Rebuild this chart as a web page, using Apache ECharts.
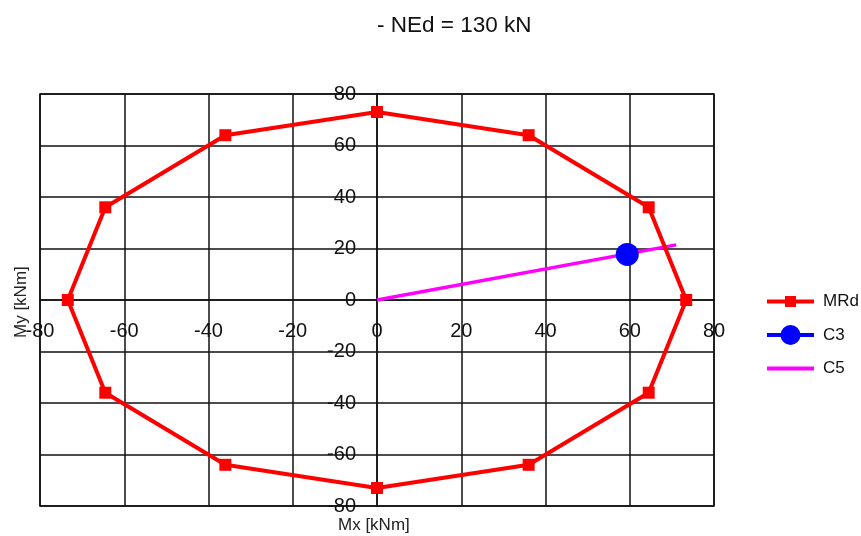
<!DOCTYPE html>
<html>
<head>
<meta charset="utf-8">
<script src="https://cdn.jsdelivr.net/npm/echarts@6/dist/echarts.min.js"></script>
<style>
  html, body { margin: 0; padding: 0; background: #fff; }
  #chart { width: 861px; height: 536px; }
</style>
</head>
<body>
<div id="chart"></div>
<script>
// Interaction diagram: resisting moment envelope and load points
const titleText = '- NEd = 130 kN';
const axisTicks = [-80, -60, -40, -20, 0, 20, 40, 60, 80];

// MRd envelope (closed polygon)
const mrdX = [0, 36, 64.5, 73.4, 64.5, 36, 0, -36, -64.5, -73.4, -64.5, -36, 0];
const mrdY = [73, 64, 36, 0, -36, -64, -73, -64, -36, 0, 36, 64, 73];

// C3 load point
const c3X = [59.4];
const c3Y = [17.7];

// C5 load path
const c5X = [0, 71];
const c5Y = [0, 21.4];

const seriesNames = ['MRd', 'C3', 'C5'];

const pairs = (xs, ys) => xs.map((x, i) => [x, ys[i]]);

const FONT = "'Liberation Sans', Arial, sans-serif";
const axisMin = axisTicks[0];
const axisMax = axisTicks[axisTicks.length - 1];
const axisStep = axisTicks[1] - axisTicks[0];

// plot rectangle (px)
const G = { left: 40, top: 94, width: 674, height: 412 };

const gridLine = { color: '#111', width: 1.5 };

// legend glyphs: line with marker, drawn in a 47 x 20 box
const ICON_MRD = 'path://M0,8 L47,8 L47,12 L0,12 Z M18,4.5 L29,4.5 L29,15.5 L18,15.5 Z';
const ICON_C3 = 'path://M0,8 L47,8 L47,12 L0,12 Z M13.5,10 A10,10 0 1,1 33.5,10 A10,10 0 1,1 13.5,10 Z';
const ICON_C5 = 'path://M0,8 L47,8 L47,12 L0,12 Z';

const chart = echarts.init(document.getElementById('chart'), null, { renderer: 'canvas' });

chart.setOption({
  backgroundColor: '#fff',
  animation: false,
  textStyle: { fontFamily: FONT },
  title: {
    text: titleText,
    left: 372,
    top: 9,
    textStyle: { fontFamily: FONT, fontSize: 22.5, fontWeight: 'normal', color: '#111' }
  },
  grid: {
    left: G.left,
    top: G.top,
    width: G.width,
    height: G.height,
    outerBoundsMode: 'none',
    containLabel: false,
    show: true,
    borderColor: '#111',
    borderWidth: 1.5,
    backgroundColor: '#fff'
  },
  xAxis: {
    type: 'value',
    position: 'bottom',
    // axis crosses at My = 0 (middle of the plot)
    offset: -G.height / 2,
    min: axisMin,
    max: axisMax,
    interval: axisStep,
    axisLine: { show: true, onZero: false, lineStyle: gridLine },
    axisTick: { show: false },
    splitLine: { show: true, lineStyle: gridLine },
    axisLabel: { fontSize: 20, color: '#111', margin: 21, fontFamily: FONT }
  },
  yAxis: {
    type: 'value',
    position: 'left',
    // axis crosses at Mx = 0 (middle of the plot)
    offset: -G.width / 2,
    min: axisMin,
    max: axisMax,
    interval: axisStep,
    axisLine: { show: true, onZero: false, lineStyle: gridLine },
    axisTick: { show: false },
    splitLine: { show: true, lineStyle: gridLine },
    axisLabel: { fontSize: 20, color: '#111', margin: 21, fontFamily: FONT }
  },
  legend: {
    orient: 'vertical',
    left: 762,
    top: 288,
    itemWidth: 47,
    itemHeight: 20,
    itemGap: 15,
    symbolKeepAspect: true,
    data: [
      { name: seriesNames[0], icon: ICON_MRD },
      { name: seriesNames[1], icon: ICON_C3 },
      { name: seriesNames[2], icon: ICON_C5 }
    ],
    textStyle: { fontSize: 17, color: '#111', fontFamily: FONT, padding: [0, 0, 0, 4] }
  },
  graphic: [
    {
      type: 'text',
      left: 338,
      top: 517,
      style: { text: 'Mx [kNm]', font: '17px ' + FONT, fill: '#222' }
    },
    {
      type: 'text',
      x: 13,
      y: 338,
      rotation: Math.PI / 2,
      style: { text: 'My [kNm]', font: '17px ' + FONT, fill: '#222' }
    }
  ],
  series: [
    {
      name: seriesNames[0],
      type: 'line',
      z: 3,
      data: pairs(mrdX, mrdY),
      symbol: 'rect',
      symbolSize: 12,
      showAllSymbol: true,
      lineStyle: { color: '#ff0000', width: 4 },
      itemStyle: { color: '#ff0000' }
    },
    {
      name: seriesNames[1],
      type: 'line',
      z: 4,
      data: pairs(c3X, c3Y),
      symbol: 'circle',
      symbolSize: 23,
      lineStyle: { color: '#0000ff', width: 4 },
      itemStyle: { color: '#0000ff' }
    },
    {
      name: seriesNames[2],
      type: 'line',
      z: 2,
      data: pairs(c5X, c5Y),
      symbol: 'none',
      lineStyle: { color: '#ff00ff', width: 3.5 },
      itemStyle: { color: '#ff00ff' }
    }
  ]
});
</script>
</body>
</html>
